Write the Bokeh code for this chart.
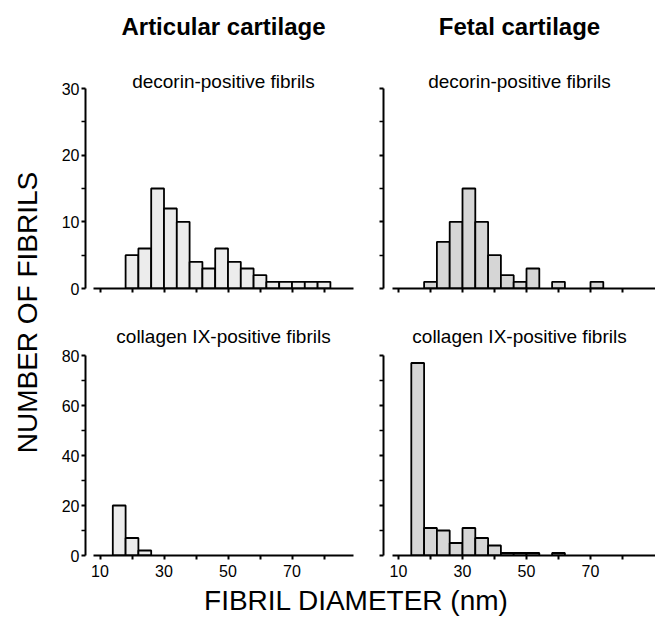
import numpy as np
from bokeh.plotting import figure
from bokeh.models import Range1d, FixedTicker
from bokeh.layouts import row, column
from bokeh.core.properties import value
from bokeh.embed import file_html
from bokeh.resources import INLINE

FONT = "Liberation Sans"

# ---------------- data ----------------
column_titles = ["Articular cartilage", "Fetal cartilage"]
row_titles = ["decorin-positive fibrils", "collagen IX-positive fibrils"]
x_axis_title = "FIBRIL DIAMETER (nm)"
y_axis_title = "NUMBER OF FIBRILS"

bin_width = 4
art_decorin_bins = [18, 22, 26, 30, 34, 38, 42, 46, 50, 54, 58, 62, 66, 70, 74, 78]
art_decorin_counts = [5, 6, 15, 12, 10, 4, 3, 6, 4, 3, 2, 1, 1, 1, 1, 1]
fetal_decorin_bins = [18, 22, 26, 30, 34, 38, 42, 46, 50, 54, 58, 62, 66, 70]
fetal_decorin_counts = [1, 7, 10, 15, 10, 5, 2, 1, 3, 0, 1, 0, 0, 1]
art_col9_bins = [14, 18, 22]
art_col9_counts = [20, 7, 2]
fetal_col9_bins = [14, 18, 22, 26, 30, 34, 38, 42, 46, 50, 54, 58]
fetal_col9_counts = [77, 11, 10, 5, 11, 7, 4, 1, 1, 1, 0, 1]

x_ticks = [10, 20, 30, 40, 50, 60, 70, 80]
x_tick_labels = {10: "10", 20: "", 30: "30", 40: "", 50: "50", 60: "", 70: "70", 80: ""}
decorin_y_ticks = [0, 10, 20, 30]
decorin_y_minor = [5, 15, 25]
col9_y_ticks = [0, 20, 40, 60, 80]
col9_y_minor = [10, 30, 50, 70]

light_fill = "#ececec"
dark_fill = "#d6d6d6"

# ---------------- layout (pixels) ----------------
PX_PER_NM = 3.2
TEN_PX = {True: 99.5, False: 398.0}        # page x of the 10 nm tick
FRAME_X = {True: (85, 353), False: (383, 655)}
AXIS_START_PX = {True: 92.7, False: 391.7}
FIG_X0 = {True: 48, False: 368}
TITLE_PX = {True: 223, False: 519}


def x_data(px, left):
    return 10 + (px - TEN_PX[left]) / PX_PER_NM


def make_panel(bins, counts, fill, left_side, top_row, subtitle, heading=None):
    fx0, fx1 = FRAME_X[left_side]
    width = (320 if left_side else 287)
    bl = fx0 - FIG_X0[left_side]
    br = FIG_X0[left_side] + width - fx1
    xr = Range1d(x_data(fx0, left_side), x_data(fx1, left_side))
    if top_row:
        fig_y0, base_px, ppu, ymax = 0, 288, 200 / 30, 30
        height = 318
        yt, ym = decorin_y_ticks, decorin_y_minor
    else:
        fig_y0, base_px, ppu, ymax = 318, 555, 200 / 80, 80
        height = 267
        yt, ym = col9_y_ticks, col9_y_minor
    yr = Range1d(0, (base_px - fig_y0) / ppu)
    bb = fig_y0 + height - base_px

    def y_data(py):
        return (base_px - py) / ppu

    p = figure(width=width, height=height, x_range=xr, y_range=yr, title=None,
               toolbar_location=None, output_backend="svg",
               min_border_left=bl, min_border_right=br,
               min_border_top=0, min_border_bottom=bb)
    p.outline_line_color = None
    p.xgrid.visible = False
    p.ygrid.visible = False
    p.background_fill_color = "white"
    p.border_fill_color = "white"

    b = np.array(bins, dtype=float)
    c = np.array(counts, dtype=float)
    m = c > 0
    p.quad(left=b[m], right=b[m] + bin_width, bottom=0, top=c[m],
           fill_color=fill, line_color="black", line_width=1.8)

    tx = x_data(TITLE_PX[left_side], left_side)
    if heading is not None:
        p.text(x=[tx], y=[y_data(26)], text=[heading], text_font=value(FONT),
               text_font_size="24px", text_font_style="bold", text_color="black",
               text_align="center", text_baseline="middle")
        sub_y = y_data(81)
    else:
        sub_y = y_data(336)
    p.text(x=[tx], y=[sub_y], text=[subtitle], text_font=value(FONT),
           text_font_size="19px", text_color="black",
           text_align="center", text_baseline="middle")

    for ax in (p.xaxis[0], p.yaxis[0]):
        ax.axis_line_width = 2
        ax.axis_line_color = "black"
        ax.major_tick_line_width = 2
        ax.major_tick_line_color = "black"
        ax.minor_tick_line_width = 1.5
        ax.minor_tick_line_color = "black"
        ax.major_tick_in = 0
        ax.major_tick_out = 4
        ax.minor_tick_in = 0
        ax.minor_tick_out = 4
        ax.major_label_text_font = FONT
        ax.major_label_text_font_size = "16px"
        ax.major_label_text_color = "black"
    p.yaxis.major_label_standoff = 2
    p.xaxis.major_label_standoff = 5

    p.xaxis.ticker = FixedTicker(ticks=x_ticks, minor_ticks=[])
    p.xaxis.bounds = (x_data(AXIS_START_PX[left_side], left_side), xr.end)
    if top_row:
        p.xaxis.major_label_overrides = {t: "" for t in x_ticks}
    else:
        p.xaxis.major_label_overrides = x_tick_labels
    p.yaxis.ticker = FixedTicker(ticks=yt, minor_ticks=ym)
    p.yaxis.bounds = (0, ymax)
    if not left_side:
        p.yaxis.major_label_overrides = {t: "" for t in yt}
    return p


tl = make_panel(art_decorin_bins, art_decorin_counts, light_fill, True, True,
                row_titles[0], column_titles[0])
tr = make_panel(fetal_decorin_bins, fetal_decorin_counts, dark_fill, False, True,
                row_titles[0], column_titles[1])
bl_ = make_panel(art_col9_bins, art_col9_counts, light_fill, True, False,
                 row_titles[1])
br_ = make_panel(fetal_col9_bins, fetal_col9_counts, dark_fill, False, False,
                 row_titles[1])


def text_strip(w, h):
    s = figure(width=w, height=h, x_range=Range1d(0, w), y_range=Range1d(0, h),
               toolbar_location=None, output_backend="svg", title=None,
               x_axis_type=None, y_axis_type=None, min_border=0)
    s.outline_line_color = None
    s.background_fill_color = "white"
    s.border_fill_color = "white"
    return s


ylab = text_strip(48, 618)
ylab.text(x=[27], y=[618 - 312], text=[y_axis_title], angle=np.pi / 2,
          text_font=value(FONT), text_font_size="28px", text_align="center",
          text_baseline="middle", text_color="black")

xlab = text_strip(607, 33)
xlab.text(x=[356 - 48], y=[33 - 15], text=[x_axis_title],
          text_font=value(FONT), text_font_size="28px", text_align="center",
          text_baseline="middle", text_color="black")

layout = row(ylab, column(row(tl, tr), row(bl_, br_), xlab))

open("out.html", "w").write(file_html(layout, INLINE))
